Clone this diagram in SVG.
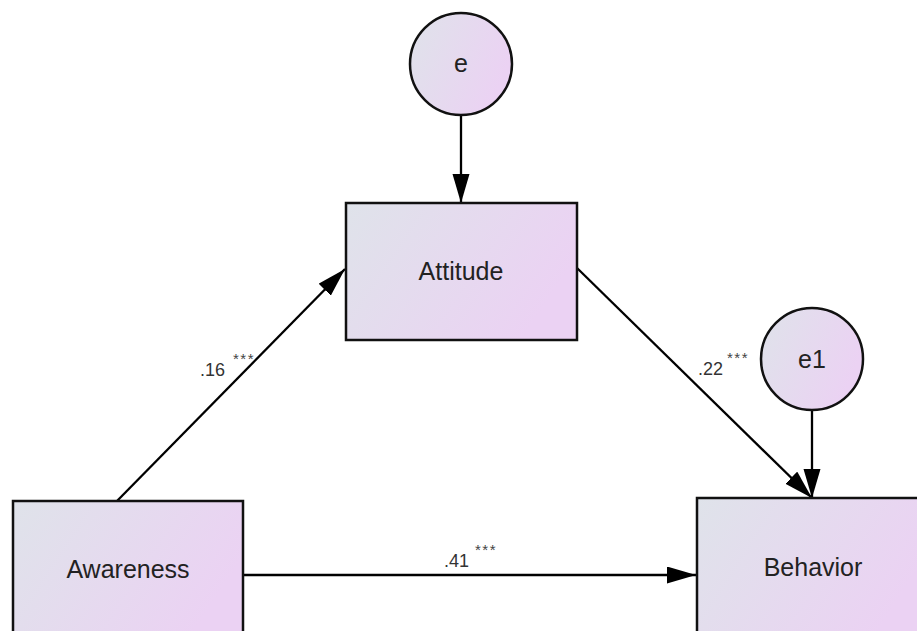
<svg xmlns="http://www.w3.org/2000/svg" width="917" height="631" viewBox="0 0 917 631">
<defs>
<linearGradient id="g" x1="0" y1="0" x2="1" y2="0.4">
<stop offset="0" stop-color="#dfe3ea"/>
<stop offset="1" stop-color="#ebd2f3"/>
</linearGradient>
<marker id="ah" markerUnits="userSpaceOnUse" markerWidth="32" markerHeight="20" refX="29" refY="8.5" orient="auto" viewBox="0 0 32 20">
<path d="M0,0 L29,8.5 L0,17 z" fill="#000"/>
</marker>
<style>
.node{fill:url(#g);stroke:#111;stroke-width:2.5}
.lbl{font-family:"Liberation Sans",Arial,sans-serif;font-size:25px;fill:#222;text-anchor:middle}
.coef{font-family:"Liberation Sans",Arial,sans-serif;font-size:18px;fill:#333}
.star{font-family:"Liberation Sans",Arial,sans-serif;font-size:15px;fill:#444;letter-spacing:1.5px}
.edge{stroke:#000;stroke-width:2.3;fill:none;marker-end:url(#ah)}
</style>
</defs>
<rect width="917" height="631" fill="#fff"/>
<g id="connectors">
<line class="edge" x1="461" y1="115" x2="461" y2="203"/>
<line class="edge" x1="812" y1="410" x2="812" y2="498"/>
<line class="edge" x1="117" y1="501" x2="345" y2="269"/>
<line class="edge" x1="577" y1="268" x2="812" y2="498"/>
<line class="edge" x1="243" y1="575" x2="696" y2="575"/>
<text class="coef" x="200" y="376">.16</text><text class="star" x="233" y="364">***</text>
<text class="coef" x="698" y="375">.22</text><text class="star" x="727" y="363">***</text>
<text class="coef" x="444" y="567">.41</text><text class="star" x="475" y="555">***</text>
</g>
<g id="e">
<circle class="node" cx="461" cy="64" r="51"/>
<text class="lbl" x="461" y="72">e</text>
</g>
<g id="e1">
<circle class="node" cx="812" cy="359" r="51"/>
<text class="lbl" x="812" y="368">e1</text>
</g>
<g id="Attitude">
<rect class="node" x="346" y="203" width="231" height="137"/>
<text class="lbl" x="461" y="280">Attitude</text>
</g>
<g id="Awareness">
<rect class="node" x="13" y="501" width="230" height="140"/>
<text class="lbl" x="128" y="578">Awareness</text>
</g>
<g id="Behavior">
<rect class="node" x="697" y="498" width="230" height="143"/>
<text class="lbl" x="813" y="576">Behavior</text>
</g>
</svg>
